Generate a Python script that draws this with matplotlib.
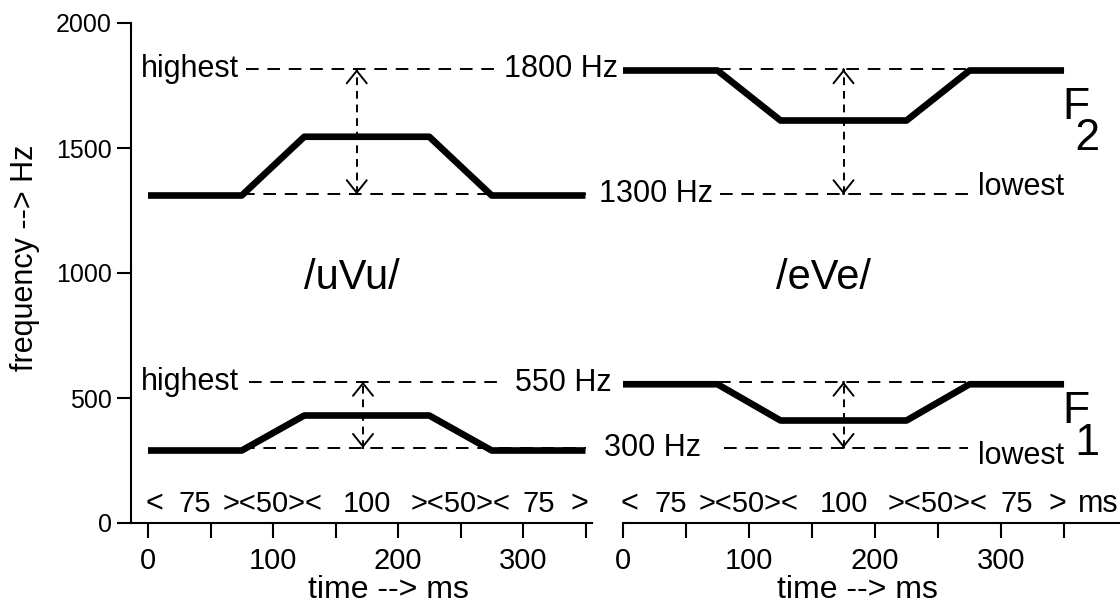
import matplotlib.pyplot as plt

plt.rcParams['font.family'] = ['Liberation Sans', 'DejaVu Sans']

# formant tracks (time in ms, frequency in Hz)
t_knots = [0, 75, 125, 225, 275, 350]
uvu_f2 = [1310, 1310, 1545, 1545, 1310, 1310]
uvu_f1 = [290, 290, 430, 430, 290, 290]
eve_f2 = [1810, 1810, 1610, 1610, 1810, 1810]
eve_f1 = [555, 555, 410, 410, 555, 555]

# reference levels
f2_hi, f2_lo = 1815, 1315
f1_hi, f1_lo = 565, 300

# segment durations shown above the time axis
seg_labels = ['75', '50', '100', '50', '75']
seg_bounds = [0, 75, 125, 225, 275, 350]

W, H = 1120, 606
fig = plt.figure(figsize=(W / 100, H / 100), dpi=100)

ax1 = fig.add_axes([131 / W, 83 / H, 461 / W, 500 / H])
ax2 = fig.add_axes([623 / W, 83 / H, 497 / W, 500 / H])

ax1.set_xlim(-13.6, 355.2)
ax2.set_xlim(0, 394.4)
for ax in (ax1, ax2):
    ax.set_ylim(0, 2000)
    ax.spines['top'].set_visible(False)
    ax.spines['right'].set_visible(False)
    ax.spines['bottom'].set_linewidth(1.5)
    ax.spines['left'].set_linewidth(1.5)
    ax.set_xticks(range(0, 351, 50))
    ax.set_xticklabels(['0', '', '100', '', '200', '', '300', ''])
    ax.tick_params(axis='x', length=11, width=1.5, pad=6, labelsize=21)

ax1.set_yticks([0, 500, 1000, 1500, 2000])
ax1.tick_params(axis='y', length=10, width=1.5, pad=4, labelsize=18)
ax2.spines['left'].set_visible(False)
ax2.set_yticks([])

thick = dict(color='black', lw=4.8, solid_capstyle='butt', zorder=3)
dash = dict(color='black', lw=1.4, dashes=(6.5, 4.5), zorder=2)

# left panel /uVu/
ax1.plot(t_knots, uvu_f2, **thick)
ax1.plot(t_knots, uvu_f1, **thick)
ax1.plot([78, 282], [f2_hi, f2_hi], **dash)
ax1.plot([75, 350], [f2_lo, f2_lo], **dash)
ax1.plot([81, 282], [f1_hi, f1_hi], **dash)
ax1.plot([75, 350], [f1_lo, f1_lo], **dash)

# right panel /eVe/
ax2.plot(t_knots, eve_f2, **thick)
ax2.plot(t_knots, eve_f1, **thick)
ax2.plot([75, 275], [f2_hi, f2_hi], **dash)
ax2.plot([77, 274], [f2_lo, f2_lo], **dash)
ax2.plot([75, 275], [f1_hi, f1_hi], **dash)
ax2.plot([80, 274], [f1_lo, f1_lo], **dash)


def range_arrow(ax, x, lo, hi):
    ax.plot([x, x], [lo, hi], color='black', lw=1.4, dashes=(4, 3), zorder=2)
    for tip, back in ((hi, hi - 1), (lo, lo + 1)):
        ax.annotate('', xy=(x, tip), xytext=(x, back),
                    arrowprops=dict(arrowstyle='->,head_length=0.5,head_width=0.4',
                                    lw=1.4, color='black', shrinkA=0, shrinkB=0,
                                    mutation_scale=18))


range_arrow(ax1, 167, f2_lo, f2_hi)
range_arrow(ax1, 172, f1_lo, f1_hi)
range_arrow(ax2, 175, f2_lo, f2_hi)
range_arrow(ax2, 175, f1_lo, f1_hi)

fs = 22
ax1.text(73, f2_hi, 'highest', ha='right', va='center', fontsize=fs)
ax1.text(376, f2_hi, '1800 Hz', ha='right', va='center', fontsize=fs)
ax2.text(-19, f2_lo, '1300 Hz', ha='left', va='center', fontsize=fs)
ax2.text(282, 1345, 'lowest', ha='left', va='center', fontsize=fs)

ax1.text(73, f1_hi, 'highest', ha='right', va='center', fontsize=fs)
ax1.text(371, 560, '550 Hz', ha='right', va='center', fontsize=fs)
ax2.text(-15, f1_lo, '300 Hz', ha='left', va='center', fontsize=fs)
ax2.text(282, 268, 'lowest', ha='left', va='center', fontsize=fs)

# formant names with a lowered index
ax2.text(349, 1600, 'F\n 2', ha='left', va='center', multialignment='left',
         linespacing=0.7, fontsize=32)
ax2.text(349, 382, 'F\n 1', ha='left', va='center', multialignment='left',
         linespacing=0.7, fontsize=32)

ax1.text(163, 980, '/uVu/', ha='center', va='center', fontsize=30)
ax2.text(159, 980, '/eVe/', ha='center', va='center', fontsize=30)

# segment duration row
for ax in (ax1, ax2):
    ax.text(5, 75, '<', ha='center', va='center', fontsize=fs)
    ax.text(345, 75, '>', ha='center', va='center', fontsize=fs)
    for i, lab in enumerate(seg_labels):
        mid = (seg_bounds[i] + seg_bounds[i + 1]) / 2
        if lab == '50':
            lab = '><' + lab + '><'
        ax.text(mid, 75, lab, ha='center', va='center', fontsize=fs - 1)
ax2.text(377, 75, 'ms', ha='center', va='center', fontsize=fs)

fig.text(388 / W, 1 - 590 / H, 'time --> ms', ha='center', va='center', fontsize=23)
fig.text(857 / W, 1 - 590 / H, 'time --> ms', ha='center', va='center', fontsize=23)
fig.text(25 / W, 1 - 258 / H, 'frequency --> Hz', ha='center', va='center',
         rotation=90, fontsize=22)

fig.savefig('out.png', dpi=100)
